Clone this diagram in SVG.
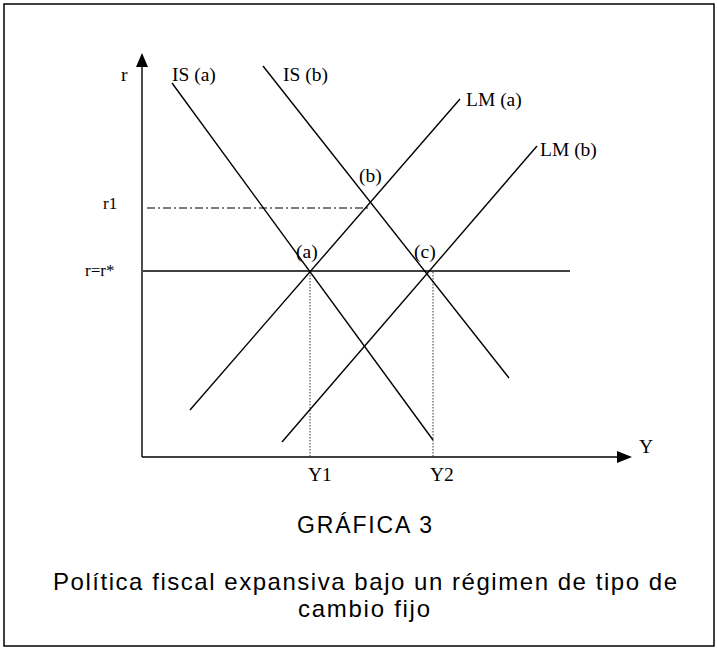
<svg xmlns="http://www.w3.org/2000/svg" width="717" height="648" viewBox="0 0 717 648">
<style>
.ln{stroke:#000;stroke-width:1.4;fill:none}
.dot{stroke:#333;stroke-width:1;stroke-dasharray:1.5 1.5;fill:none}
.dd{stroke:#000;stroke-width:1.2;stroke-dasharray:8 3 2 3;fill:none}
.lb{font-family:"Liberation Serif","Times New Roman",serif;font-size:19.5px;fill:#000}
.sm{font-family:"Liberation Serif","Times New Roman",serif;font-size:17px;fill:#000}
.cap{font-family:"Liberation Sans",Arial,sans-serif;fill:#000}
</style>
<rect width="717" height="648" fill="#fff"/>
<rect x="4" y="4" width="710" height="642" fill="none" stroke="#000" stroke-width="1.5"/>
<g id="axes">
<line class="ln" x1="142" y1="62" x2="142" y2="457"/>
<polygon points="142,53 136,67 148,67" fill="#000"/>
<line class="ln" x1="142" y1="457" x2="622" y2="457"/>
<polygon points="632,457 617,451 617,463" fill="#000"/>
<text class="lb" x="121" y="81">r</text>
<text class="lb" x="639" y="453">Y</text>
</g>
<g id="connectors">
<line class="ln" x1="143" y1="271" x2="570" y2="271"/>
<line class="dd" x1="147" y1="208" x2="370" y2="208"/>
<line class="dot" x1="310" y1="272" x2="310" y2="457"/>
<line class="dot" x1="433" y1="272" x2="433" y2="457"/>
</g>
<g id="IS-a">
<line class="ln" x1="172" y1="83" x2="433" y2="440"/>
<text class="lb" x="172" y="81">IS (a)</text>
</g>
<g id="IS-b">
<line class="ln" x1="263" y1="66" x2="509" y2="378"/>
<text class="lb" x="283" y="81">IS (b)</text>
</g>
<g id="LM-a">
<line class="ln" x1="460" y1="99" x2="190" y2="410"/>
<text class="lb" x="466" y="106">LM (a)</text>
</g>
<g id="LM-b">
<line class="ln" x1="537" y1="146" x2="282" y2="442"/>
<text class="lb" x="540" y="156">LM (b)</text>
</g>
<g id="points">
<text class="lb" x="296" y="258">(a)</text>
<text class="lb" x="359" y="182">(b)</text>
<text class="lb" x="414" y="258">(c)</text>
</g>
<g id="ticks">
<text class="sm" x="103" y="209">r1</text>
<text class="sm" x="85" y="276">r=r*</text>
<text class="lb" x="308" y="481">Y1</text>
<text class="lb" x="430" y="481">Y2</text>
</g>
<g id="caption">
<text class="cap" x="297" y="533" font-size="23" textLength="135" lengthAdjust="spacing">GRÁFICA 3</text>
<text class="cap" x="53" y="590" font-size="24" textLength="624" lengthAdjust="spacing">Política fiscal expansiva bajo un régimen de tipo de</text>
<text class="cap" x="298" y="617" font-size="24" textLength="132" lengthAdjust="spacing">cambio fijo</text>
</g>
</svg>
